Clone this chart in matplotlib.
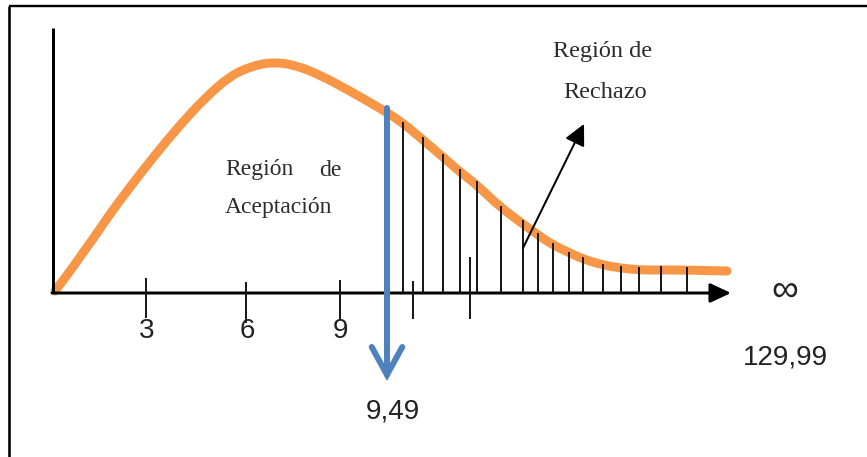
import matplotlib
matplotlib.use("Agg")
import matplotlib.pyplot as plt
from matplotlib.path import Path
from matplotlib.patches import PathPatch

# Diagram space: 0..867 horizontally, 0..457 vertically (top to bottom)
W, H = 867, 457
PT = 0.72  # points per diagram unit at 100 dpi

# Density curve (schematic chi-square shape)
curve_x = [55, 68, 80, 95, 110, 130, 155, 180, 205, 230, 252, 273, 295, 320,
           350, 383, 403, 423, 443, 460, 477, 500, 523, 538, 553, 570, 583,
           603, 620, 640, 660, 687, 727]
curve_y = [291, 274, 257, 236, 214, 187, 155, 125, 98, 76, 66, 62, 65, 75,
           91, 110, 123, 140, 157, 172, 185, 207, 224, 235, 245, 253, 259,
           265, 268, 270, 270, 270, 271]

# Rejection-region hatching: position and height of each stroke
hatch_x = [403, 423, 443, 460, 477, 501, 523, 538, 553, 569, 583, 603, 621,
           639, 661, 687]
hatch_top = [123, 138, 155, 170, 182, 207, 221, 234, 244, 253, 258, 265, 267,
             268, 267, 268]

# Axis ticks
tick_x = [146, 246, 340, 413, 470]
tick_top = [279, 283, 281, 282, 258]
tick_bottom = [317, 322, 319, 318, 318]
tick_labels = ["3", "6", "9"]

critical_label = "9,49"
critical_x = 387
upper_label = "129,99"

origin = (53, 293)
x_end = 731
y_top = 28


def smooth_path(xs, ys):
    """Quadratic B-spline path: the read points act as Bezier control points."""
    pts = list(zip(xs, ys))
    verts = [pts[0]]
    codes = [Path.MOVETO]
    for i in range(1, len(pts) - 1):
        mid = ((pts[i][0] + pts[i + 1][0]) / 2, (pts[i][1] + pts[i + 1][1]) / 2)
        if i == len(pts) - 2:
            mid = pts[-1]
        verts += [pts[i], mid]
        codes += [Path.CURVE3, Path.CURVE3]
    return Path(verts, codes)


fig = plt.figure(figsize=(8.67, 4.57), dpi=100)
ax = fig.add_axes([0, 0, 1, 1])
ax.set_xlim(0, W)
ax.set_ylim(H, 0)
ax.axis("off")

# Frame (top and left edges)
ax.plot([9, 9], [6, H + 5], color="black", lw=2.6 * PT, solid_capstyle="butt")
ax.plot([9, W + 5], [6, 6], color="black", lw=2.4 * PT, solid_capstyle="butt")

# Orange density curve
ax.add_patch(PathPatch(smooth_path(curve_x, curve_y), facecolor="none",
                       edgecolor="#F79646", lw=9 * PT, capstyle="round",
                       joinstyle="round", zorder=2))

# Hatching under the tail
for x, top in zip(hatch_x, hatch_top):
    ax.plot([x, x], [origin[1], top], color="#1a1a1a", lw=2 * PT, zorder=3)

# Axes
ax.plot([origin[0], origin[0]], [origin[1], y_top], color="black",
        lw=3 * PT, solid_capstyle="butt", zorder=4)
ax.annotate("", xy=(x_end, origin[1]), xytext=(origin[0] - 1, origin[1]),
            arrowprops=dict(arrowstyle="-|>,head_length=0.9,head_width=0.42",
                            color="black", lw=3 * PT, mutation_scale=14,
                            shrinkA=0, shrinkB=0), zorder=4)

for x, t, b in zip(tick_x, tick_top, tick_bottom):
    ax.plot([x, x], [t, b], color="#1a1a1a", lw=2 * PT, zorder=4)

num_font = dict(family="Liberation Sans", fontsize=20, color="#222222")
for x, lab in zip(tick_x, tick_labels):
    ax.text(x + 1, 331, lab, ha="center", va="center", **num_font)

# Critical value arrow
ax.annotate("", xy=(critical_x, 381), xytext=(critical_x, 108),
            arrowprops=dict(arrowstyle="->,head_length=1.0,head_width=0.55",
                            color="#4F81BD", lw=6 * PT, mutation_scale=20,
                            shrinkA=0, shrinkB=0, joinstyle="miter"),
            zorder=5)
ax.text(critical_x + 6, 412, critical_label, ha="center", va="center", **num_font)

# Infinity end of the axis
ax.text(785, 291, "\u221e", ha="center", va="center", family="Liberation Sans",
        fontsize=27, color="#222222")
ax.text(785, 357, upper_label, ha="center", va="center", **num_font)

# Region labels
serif = dict(family="Liberation Serif", color="#2b2b2b")
ax.text(225, 170, "Región", ha="left", va="center", fontsize=17, **serif)
ax.text(342, 170, "de", ha="right", va="center", fontsize=17, **serif)
ax.text(225, 208, "Aceptación", ha="left", va="center", fontsize=17, **serif)
ax.text(603, 52, "Región de", ha="center", va="center", fontsize=17.5, **serif)
ax.text(605, 93, "Rechazo", ha="center", va="center", fontsize=17.5, **serif)

# Pointer to the rejection region
ax.annotate("", xy=(584, 124), xytext=(523, 248),
            arrowprops=dict(arrowstyle="-|>,head_length=0.8,head_width=0.4",
                            color="black", lw=2 * PT, mutation_scale=16,
                            shrinkA=0, shrinkB=0), zorder=5)

fig.savefig("out.png", dpi=100, facecolor="white")
